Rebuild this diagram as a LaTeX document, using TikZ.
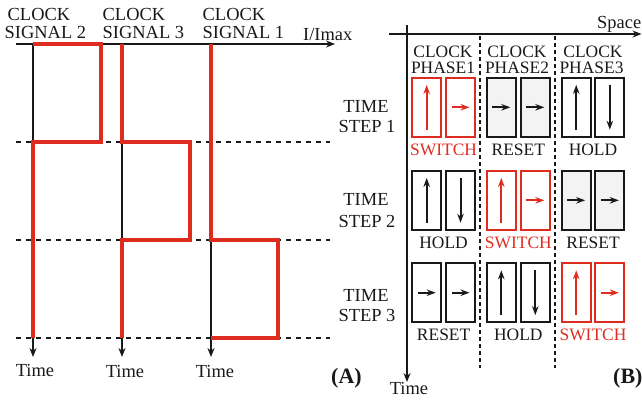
\documentclass[tikz,border=0pt]{standalone}
\usepackage{fontspec}
\setmainfont{Liberation Serif}
\usetikzlibrary{arrows.meta}
\definecolor{sigred}{RGB}{222,45,32}
\definecolor{resetgray}{RGB}{243,243,243}
\definecolor{ink}{RGB}{25,25,25}
\begin{document}
\begin{tikzpicture}[x=1bp,y=-1bp,
  axis/.style={line width=1.5bp, draw=ink, -{Stealth[length=9bp,width=7bp]}},
  guide/.style={line width=1.4bp, draw=ink, dash pattern=on 5bp off 5bp},
  colsep/.style={line width=1.5bp, draw=ink, dash pattern=on 4bp off 3bp},
  signal/.style={line width=3.2bp, draw=sigred, line join=miter},
  ltxt/.style={inner sep=0pt, anchor=base west, font=\fontsize{18.5}{20}\selectfont, text=ink},
  ctxt/.style={inner sep=0pt, anchor=base, font=\fontsize{18.5}{20}\selectfont, text=ink},
  htxt/.style={inner sep=0pt, anchor=base, font=\fontsize{17.5}{20}\selectfont, text=ink},
  stxt/.style={htxt, text=sigred},
  tag/.style={inner sep=0pt, anchor=base west, font=\fontsize{22}{24}\selectfont\bfseries, text=ink},
  cell/.style={draw=ink, line width=1.8bp, minimum width=29bp, minimum height=59bp, inner sep=0pt},
  swcell/.style={cell, draw=sigred},
  rscell/.style={cell, fill=resetgray},
  spin/.style={line width=2bp, draw=ink, -{Stealth[length=9bp,width=6.5bp]}},
  swspin/.style={spin, draw=sigred}
]
\useasboundingbox (0,0) rectangle (642,401);

% ================= panel A =================
% dashed time-step guides
\coordinate (g1a) at (16,142); \coordinate (g1b) at (330,142);
\coordinate (g2a) at (16,240); \coordinate (g2b) at (330,240);
\coordinate (g3a) at (16,338); \coordinate (g3b) at (330,338);
\draw[guide] (g1a) -- (g1b);
\draw[guide] (g2a) -- (g2b);
\draw[guide] (g3a) -- (g3b);

% current axis
\coordinate (ia0) at (16,44); \coordinate (ia1) at (335,44);
\draw[axis] (ia0) -- (ia1);
\node[ltxt] (imax) at (303,40.5) {I/Imax};

% time axes
\coordinate (s2top) at (33,44);  \coordinate (s2end) at (33,357);
\coordinate (s3top) at (122,44); \coordinate (s3end) at (122,357);
\coordinate (s1top) at (211,44); \coordinate (s1end) at (211,357);
\draw[axis] (s2top) -- (s2end);
\draw[axis] (s3top) -- (s3end);
\draw[axis] (s1top) -- (s1end);

% clock signals
\draw[signal] (33,44) -- (101,44) -- (101,142) -- (33,142) -- (33,338);
\draw[signal] (122,44) -- (122,142) -- (190,142) -- (190,240) -- (122,240) -- (122,338);
\draw[signal] (211,44) -- (211,240) -- (278,240) -- (278,338) -- (211,338);

% labels
\node[ltxt] (c2a) at (7.5,20.7) {CLOCK};
\node[ltxt] (c2b) at (4.5,38.3) {SIGNAL 2};
\node[ltxt] (c3a) at (102.5,20.7) {CLOCK};
\node[ltxt] (c3b) at (102.5,38.3) {SIGNAL 3};
\node[ltxt] (c1a) at (202.5,20.7) {CLOCK};
\node[ltxt] (c1b) at (202.5,38.3) {SIGNAL 1};

\node[ctxt] (tA1) at (35,376) {Time};
\node[ctxt] (tA2) at (125,377) {Time};
\node[ctxt] (tA3) at (215,377) {Time};
\node[tag] (labA) at (331,383) {(A)};

% ================= panel B =================
\coordinate (sp0) at (389,34); \coordinate (sp1) at (641.5,34);
\draw[axis] (sp0) -- (sp1);
\node[ltxt] (space) at (597,28) {Space};
\coordinate (tb0) at (407,25); \coordinate (tb1) at (407,382);
\draw[axis] (tb0) -- (tb1);
\node[ctxt] (tB) at (409,394) {Time};

\coordinate (d1a) at (480,36); \coordinate (d1b) at (480,368);
\coordinate (d2a) at (555,36); \coordinate (d2b) at (555,368);
\draw[colsep] (d1a) -- (d1b);
\draw[colsep] (d2a) -- (d2b);

% headers
\node[htxt] (h1a) at (443,57) {CLOCK};
\node[htxt] (h1b) at (443,73) {PHASE1};
\node[htxt] (h2a) at (517,57) {CLOCK};
\node[htxt] (h2b) at (517,73) {PHASE2};
\node[htxt] (h3a) at (593,57) {CLOCK};
\node[htxt] (h3b) at (591.5,73) {PHASE3};

% row labels
\node[ctxt] (ts1a) at (366,112.5) {TIME};
\node[ctxt] (ts1b) at (367,132) {STEP 1};
\node[ctxt] (ts2a) at (366,205.5) {TIME};
\node[ctxt] (ts2b) at (367,227) {STEP 2};
\node[ctxt] (ts3a) at (366,301) {TIME};
\node[ctxt] (ts3b) at (367,321) {STEP 3};

% ---- row 1
\node[swcell] (a11) at (426.7,107.3) {};
\node[swcell] (b11) at (460.5,107.3) {};
\node[rscell] (a12) at (501.3,107.3) {};
\node[rscell] (b12) at (535.3,107.3) {};
\node[cell]   (a13) at (576.2,107.3) {};
\node[cell]   (b13) at (609.8,107.3) {};
\draw[swspin] ([yshift=8bp]a11.south) -- ([yshift=-8bp]a11.north);
\draw[swspin] ([xshift=-9bp]b11.center) -- ([xshift=9bp]b11.center);
\draw[spin] ([xshift=-9bp]a12.center) -- ([xshift=9bp]a12.center);
\draw[spin] ([xshift=-9bp]b12.center) -- ([xshift=9bp]b12.center);
\draw[spin] ([yshift=8bp]a13.south) -- ([yshift=-8bp]a13.north);
\draw[spin] ([yshift=-8bp]b13.north) -- ([yshift=8bp]b13.south);
\node[stxt] (l11) at (443.6,155) {SWITCH};
\node[htxt] (l12) at (518.3,155) {RESET};
\node[htxt] (l13) at (593,155) {HOLD};

% ---- row 2
\node[cell]   (a21) at (426.7,200.3) {};
\node[cell]   (b21) at (460.5,200.3) {};
\node[swcell] (a22) at (501.3,200.3) {};
\node[swcell] (b22) at (535.3,200.3) {};
\node[rscell] (a23) at (576.2,200.3) {};
\node[rscell] (b23) at (609.8,200.3) {};
\draw[spin] ([yshift=8bp]a21.south) -- ([yshift=-8bp]a21.north);
\draw[spin] ([yshift=-8bp]b21.north) -- ([yshift=8bp]b21.south);
\draw[swspin] ([yshift=8bp]a22.south) -- ([yshift=-8bp]a22.north);
\draw[swspin] ([xshift=-9bp]b22.center) -- ([xshift=9bp]b22.center);
\draw[spin] ([xshift=-9bp]a23.center) -- ([xshift=9bp]a23.center);
\draw[spin] ([xshift=-9bp]b23.center) -- ([xshift=9bp]b23.center);
\node[htxt] (l21) at (443.6,248.5) {HOLD};
\node[stxt] (l22) at (518.3,248.5) {SWITCH};
\node[htxt] (l23) at (593,248.5) {RESET};

% ---- row 3
\node[cell]   (a31) at (426.7,292.7) {};
\node[cell]   (b31) at (460.5,292.7) {};
\node[cell]   (a32) at (501.3,292.7) {};
\node[cell]   (b32) at (535.3,292.7) {};
\node[swcell] (a33) at (576.2,292.7) {};
\node[swcell] (b33) at (609.8,292.7) {};
\draw[spin] ([xshift=-9bp]a31.center) -- ([xshift=9bp]a31.center);
\draw[spin] ([xshift=-9bp]b31.center) -- ([xshift=9bp]b31.center);
\draw[spin] ([yshift=8bp]a32.south) -- ([yshift=-8bp]a32.north);
\draw[spin] ([yshift=-8bp]b32.north) -- ([yshift=8bp]b32.south);
\draw[swspin] ([yshift=8bp]a33.south) -- ([yshift=-8bp]a33.north);
\draw[swspin] ([xshift=-9bp]b33.center) -- ([xshift=9bp]b33.center);
\node[htxt] (l31) at (443.6,340) {RESET};
\node[htxt] (l32) at (518.3,340) {HOLD};
\node[stxt] (l33) at (593,340) {SWITCH};

\node[tag] (labB) at (613,383) {(B)};
\end{tikzpicture}
\end{document}
